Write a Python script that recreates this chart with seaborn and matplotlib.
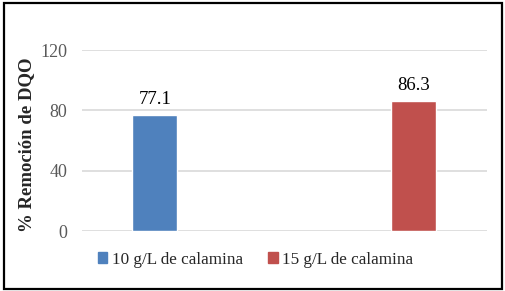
import matplotlib
matplotlib.use('Agg')
import matplotlib.pyplot as plt
import matplotlib.patches as mpatches
import pandas as pd
import seaborn as sns

# datos del gráfico
series = ['10 g/L de calamina', '15 g/L de calamina']
remocion = [77.1, 86.3]
colores = ['#4F81BD', '#C0504D']
yticks = [0, 40, 80, 120]

sns.set_style('white')
plt.rcParams['font.family'] = ['Liberation Serif', 'DejaVu Serif']

dados = pd.DataFrame({'Serie': series, 'Remocion': remocion})

fig = plt.figure(figsize=(5.06, 2.91), dpi=100)
ax = fig.add_axes([0.162, 0.206, 0.8, 0.622])

sns.barplot(data=dados, x='Serie', y='Remocion', hue='Serie', palette=colores,
            width=0.174, legend=False, ax=ax, saturation=1)

# etiquetas de valores
for cont in ax.containers:
    ax.bar_label(cont, fmt='%.1f', padding=5, fontsize=13.5, color='black')

ax.set_xlim(-0.281, 1.281)
ax.set_ylim(0, 120)
ax.set_yticks(yticks)
ax.set_xticks([])
ax.set_xlabel('')
ax.set_ylabel('% Remoción de DQO', fontsize=13.5, fontweight='bold')
ax.yaxis.set_label_coords(-0.117, 0.475)
ax.tick_params(axis='y', labelsize=13, labelcolor='#595959', length=0, pad=10.5)
ax.yaxis.grid(True, color='#D9D9D9', linewidth=1.2)
ax.set_axisbelow(True)
for s in ax.spines.values():
    s.set_visible(False)

# leyenda
handles = [mpatches.Patch(color=c, label=l) for c, l in zip(colores, series)]
fig.legend(handles=handles, loc='center', bbox_to_anchor=(0.505, 0.108), ncol=2,
           frameon=False, fontsize=12.3, handlelength=0.55, handleheight=0.55,
           handletextpad=0.25, columnspacing=1.5)

# marco negro
borde = mpatches.Rectangle((0.008, 0.008), 0.984, 0.983, transform=fig.transFigure,
                           fill=False, edgecolor='black', linewidth=1.6)
fig.patches.append(borde)

fig.savefig('out.png', dpi=100)
